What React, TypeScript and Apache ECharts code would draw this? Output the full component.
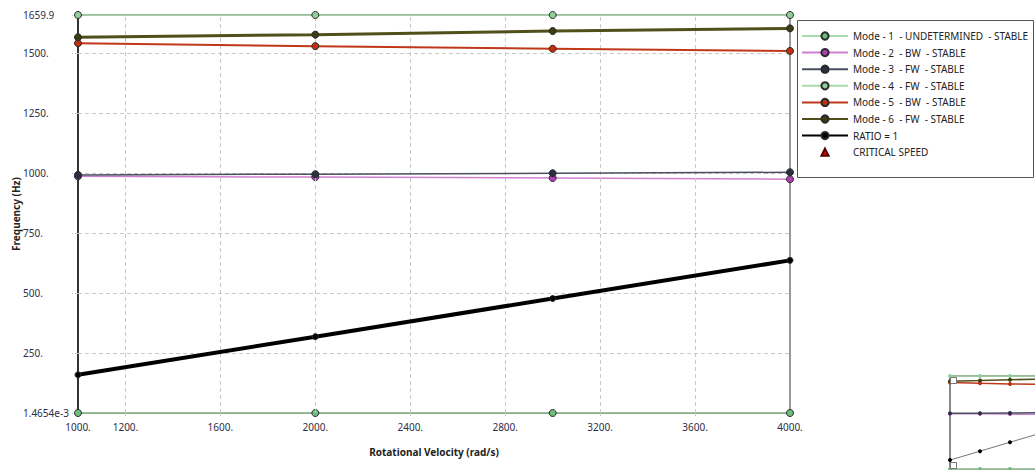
import React, { useEffect, useRef } from "react";
import * as echarts from "echarts";

// ---- data ----
const rotVel = [1000, 2000, 3000, 4000];
const mode1 = [0.0014654, 0.0014654, 0.0014654, 0.0014654];
const mode2 = [987, 984, 980, 975];
const mode3 = [993, 996, 1000, 1004];
const mode4 = [1659.9, 1659.9, 1659.9, 1659.9];
const mode5 = [1542, 1530, 1519, 1510];
const mode6 = [1567, 1578, 1593, 1604];
const ratio1 = [159.15, 318.31, 477.46, 636.62];

const xTickValues = [1000, 1200, 1600, 2000, 2400, 2800, 3200, 3600, 4000];
const xGridValues = [1200, 1600, 2000, 2400, 2800, 3200, 3600];
const yGridValues = [250, 500, 750, 1000, 1250, 1500];
const yMinLabel = "1.4654e-3";
const yMax = 1659.9;

const seriesNames = [
  "Mode - 1  - UNDETERMINED  - STABLE",
  "Mode - 2  - BW  - STABLE",
  "Mode - 3  - FW  - STABLE",
  "Mode - 4  - FW  - STABLE",
  "Mode - 5  - BW  - STABLE",
  "Mode - 6  - FW  - STABLE",
  "RATIO = 1",
];
const criticalName = "CRITICAL SPEED";

const FONT = "Noto Sans";

export default function App() {
  const ref = useRef<HTMLDivElement>(null);
  useEffect(() => {
    if (!ref.current) return;
    const chart = echarts.init(ref.current, undefined, { renderer: "svg" });

    const defs = [
      { name: seriesNames[0], data: mode1, line: "#a9dcaa", marker: "#6cbf7c", width: 1.5, size: 7 },
      { name: seriesNames[1], data: mode2, line: "#cf7fd0", marker: "#b040b8", width: 1.5, size: 7 },
      { name: seriesNames[2], data: mode3, line: "#4a5060", marker: "#2a3040", width: 1.5, size: 7 },
      { name: seriesNames[3], data: mode4, line: "#a9dcaa", marker: "#8fd09a", width: 1.5, size: 7 },
      { name: seriesNames[4], data: mode5, line: "#c0381a", marker: "#c0300f", width: 2, size: 7 },
      { name: seriesNames[5], data: mode6, line: "#50501a", marker: "#3d3d12", width: 3, size: 7 },
      { name: seriesNames[6], data: ratio1, line: "#000000", marker: "#000000", width: 4, size: 6 },
    ];

    const mainSeries: any[] = defs.map((d, i) => ({
      type: "line",
      name: d.name,
      xAxisIndex: 0,
      yAxisIndex: 0,
      z: 3 + i,
      silent: true,
      symbol: "circle",
      symbolSize: d.size,
      data: rotVel.map((x, k) => [x, d.data[k]]),
      lineStyle: { color: d.line, width: d.width },
      itemStyle: { color: d.marker, borderColor: "#2a2a2a", borderWidth: 1 },
    }));

    const thumbSeries: any[] = defs.map((d, i) => ({
      type: "line",
      name: "thumb" + i,
      xAxisIndex: 1,
      yAxisIndex: 1,
      z: 3 + i,
      silent: true,
      symbol: "circle",
      symbolSize: 4,
      data: rotVel.map((x, k) => [x, d.data[k]]),
      lineStyle: { color: i === 6 ? "#777" : d.line, width: i === 6 ? 1 : Math.min(d.width, 1.5) },
      itemStyle: { color: d.marker },
    }));

    const gridHelper = {
      type: "line",
      name: "grid-helper",
      xAxisIndex: 0,
      yAxisIndex: 0,
      z: 1,
      silent: true,
      data: [],
      markLine: {
        silent: true,
        symbol: ["none", "none"],
        label: { show: false },
        lineStyle: { type: [4, 3], color: "#c8c8c8", width: 1 },
        data: [
          ...xGridValues.map((v) => ({ xAxis: v })),
          ...yGridValues.map((v) => ({ yAxis: v })),
        ],
      },
    };

    const critical = {
      type: "line",
      name: criticalName,
      xAxisIndex: 0,
      yAxisIndex: 0,
      symbol: "triangle",
      symbolSize: 8,
      data: [],
      lineStyle: { width: 0, opacity: 0 },
      itemStyle: { color: "#e00000", borderColor: "#500", borderWidth: 0.6 },
    };

    chart.setOption({
      animation: false,
      textStyle: { fontFamily: FONT },
      grid: [
        {
          left: 78, top: 15, width: 712, height: 398,
          outerBoundsMode: "none",
          containLabel: false,
          show: true, borderColor: "#7a7a7a", borderWidth: 1.5, backgroundColor: "#fff",
        },
        {
          left: 950, top: 376, width: 90, height: 93,
          outerBoundsMode: "none",
          containLabel: false,
          show: true, borderColor: "#8a8a8a", borderWidth: 2, backgroundColor: "#fff",
        },
      ],
      xAxis: [
        {
          type: "value",
          gridIndex: 0,
          min: 1000,
          max: 4000,
          interval: 200,
          name: "Rotational Velocity (rad/s)",
          nameLocation: "middle",
          nameGap: 34,
          nameMoveOverlap: false,
          nameTextStyle: { fontFamily: FONT, fontSize: 10, fontWeight: "bold", color: "#222" },
          axisLine: { show: true, lineStyle: { color: "#6e6e6e", width: 2 } },
          axisTick: {
            show: true, length: 5, inside: false, customValues: xTickValues,
            lineStyle: { color: "#c8c8c8", type: [3, 2] },
          },
          splitLine: { show: false },
          axisLabel: {
            customValues: xTickValues,
            margin: 9,
            fontFamily: FONT,
            fontSize: 10,
            color: "#2e2e48",
            showMinLabel: true,
            showMaxLabel: true,
            formatter: (v: number) => (xTickValues.includes(Math.round(v)) ? `${Math.round(v)}.` : ""),
          },
        },
        { type: "value", gridIndex: 1, min: 1000, max: 4000, show: false, splitLine: { show: false } },
      ],
      yAxis: [
        {
          type: "value",
          gridIndex: 0,
          min: 0,
          max: yMax,
          interval: 250,
          name: "Frequency (Hz)",
          nameLocation: "middle",
          nameGap: 57,
          nameMoveOverlap: false,
          nameTextStyle: { fontFamily: FONT, fontSize: 10, fontWeight: "bold", color: "#222" },
          axisLine: { show: true, lineStyle: { color: "#111", width: 1.5 } },
          axisTick: { show: true, length: 6, lineStyle: { color: "#c0c0c0", type: [3, 2] } },
          splitLine: { show: false },
          axisLabel: {
            align: "left",
            margin: 55,
            fontFamily: FONT,
            fontSize: 10,
            color: "#2e2e48",
            showMinLabel: true,
            showMaxLabel: true,
            formatter: (v: number) => {
              if (v === 0) return yMinLabel;
              if (Math.abs(v - yMax) < 1e-6) return `${yMax}`;
              return `${v}.`;
            },
          },
        },
        { type: "value", gridIndex: 1, min: 0, max: yMax, show: false, splitLine: { show: false } },
      ],
      legend: {
        orient: "vertical",
        left: 801,
        top: 30,
        itemWidth: 46,
        itemHeight: 9,
        itemGap: 4.6,
        padding: 0,
        selectedMode: false,
        data: [...seriesNames, criticalName],
        textStyle: { fontFamily: FONT, fontSize: 10, color: "#222", lineHeight: 12 },
      },
      graphic: [
        {
          type: "rect",
          shape: { x: 797.5, y: 20.5, width: 236, height: 157 },
          style: { fill: "none", stroke: "#555", lineWidth: 1 },
          z: 10,
        },
        {
          type: "rect",
          shape: { x: 950.5, y: 377.5, width: 6, height: 6 },
          style: { fill: "#fff", stroke: "#777", lineWidth: 1 },
          z: 10,
        },
        {
          type: "rect",
          shape: { x: 950.5, y: 462.5, width: 6, height: 6 },
          style: { fill: "#fff", stroke: "#777", lineWidth: 1 },
          z: 10,
        },
      ],
      series: [gridHelper, ...mainSeries, critical, ...thumbSeries],
    });

    return () => chart.dispose();
  }, []);

  return (
    <div
      ref={ref}
      style={{ position: "fixed", left: 0, top: 0, width: 1035, height: 470, background: "#fff" }}
    />
  );
}
